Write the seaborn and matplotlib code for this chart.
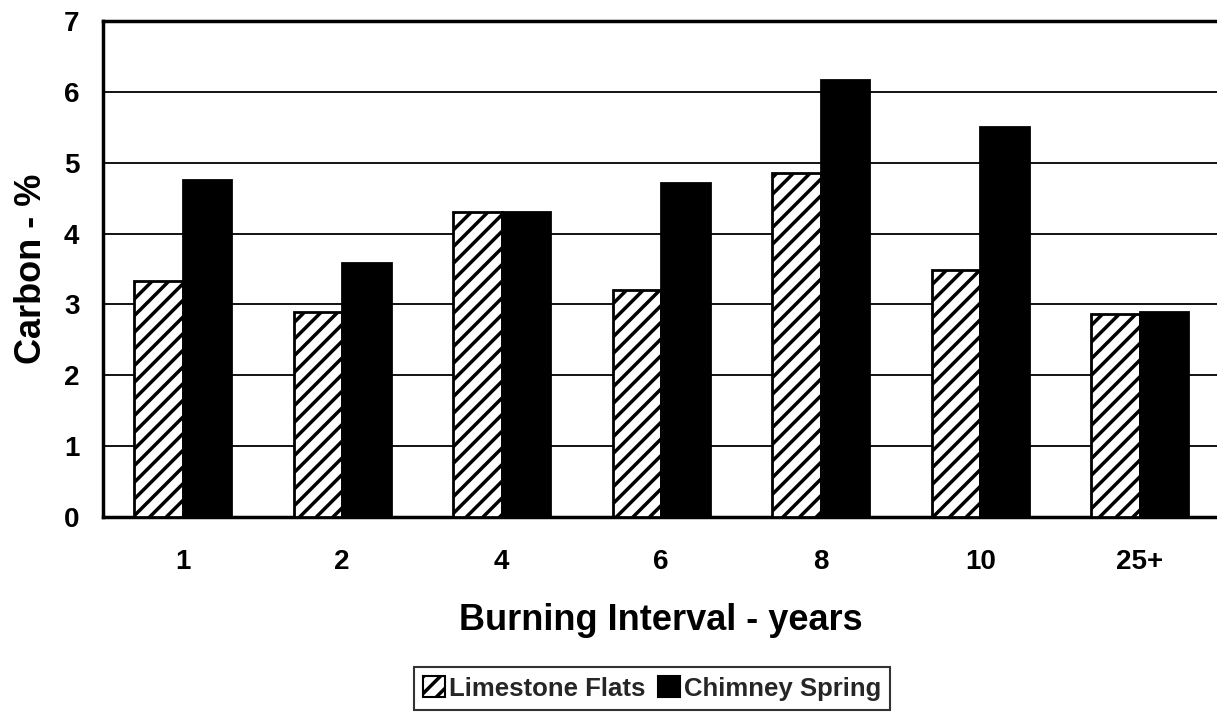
import matplotlib
matplotlib.use("Agg")
import matplotlib.pyplot as plt
from matplotlib.patches import Patch
import seaborn as sns
import pandas as pd

# ---- data ----
categories = ["1", "2", "4", "6", "8", "10", "25+"]
limestone_flats = [3.33, 2.89, 4.31, 3.20, 4.85, 3.48, 2.86]
chimney_spring = [4.75, 3.58, 4.31, 4.71, 6.16, 5.51, 2.89]
series_names = ["Limestone Flats", "Chimney Spring"]
y_ticks = [0, 1, 2, 3, 4, 5, 6, 7]
x_label = "Burning Interval - years"
y_label = "Carbon - %"

sns.set_theme(style="white")
plt.rcParams['font.family'] = ['Liberation Sans', 'DejaVu Sans']
plt.rcParams['hatch.linewidth'] = 2.5
plt.rcParams['hatch.color'] = 'black'

df = pd.DataFrame({
    "Interval": categories * 2,
    "Carbon": limestone_flats + chimney_spring,
    "Site": [series_names[0]] * len(categories) + [series_names[1]] * len(categories),
})

fig = plt.figure(figsize=(12.17, 7.13), dpi=100)
ax = fig.add_axes([0.0846, 0.2749, 0.9174, 0.6957])

palette = {series_names[0]: "white", series_names[1]: "black"}
sns.barplot(data=df, x="Interval", y="Carbon", hue="Site", order=categories,
            hue_order=series_names, palette=palette, width=0.61, gap=0,
            edgecolor="black", linewidth=2, saturation=1, ax=ax, zorder=3)

for bar in ax.containers[0]:
    bar.set_hatch("//")

if ax.get_legend() is not None:
    ax.get_legend().remove()

ax.set_xlim(-0.5, len(categories) - 0.5)
ax.set_ylim(0, 7)
ax.set_yticks(y_ticks)
ax.yaxis.grid(True, color="black", linewidth=1.3)
ax.xaxis.grid(False)
ax.set_axisbelow(True)

for s in ax.spines.values():
    s.set_visible(True)
    s.set_color("black")
    s.set_linewidth(2.5)

ax.tick_params(axis="y", left=False, length=0, pad=17, labelsize=20, colors="black")
ax.tick_params(axis="x", bottom=False, length=0, pad=23, labelsize=20, colors="black")
for lab in ax.get_xticklabels() + ax.get_yticklabels():
    lab.set_fontweight("bold")

ax.set_xlabel(x_label, fontsize=26, fontweight="bold", labelpad=20, color="black")
ax.set_ylabel(y_label, fontsize=26, fontweight="bold", labelpad=11, color="black")

handles = [Patch(facecolor="white", edgecolor="black", hatch="//", linewidth=1.5),
           Patch(facecolor="black", edgecolor="black", linewidth=1.5)]
leg = fig.legend(handles, series_names, loc="center", bbox_to_anchor=(0.5357, 0.0344),
                 ncol=2, frameon=True, fancybox=False, edgecolor="black",
                 handlelength=0.85, handleheight=0.85, handletextpad=0.15,
                 columnspacing=0.5, borderpad=0.35, borderaxespad=0,
                 prop={"weight": "bold", "size": 18.5})
leg.get_frame().set_linewidth(1.5)

fig.savefig("out.png", dpi=100, facecolor="white")
